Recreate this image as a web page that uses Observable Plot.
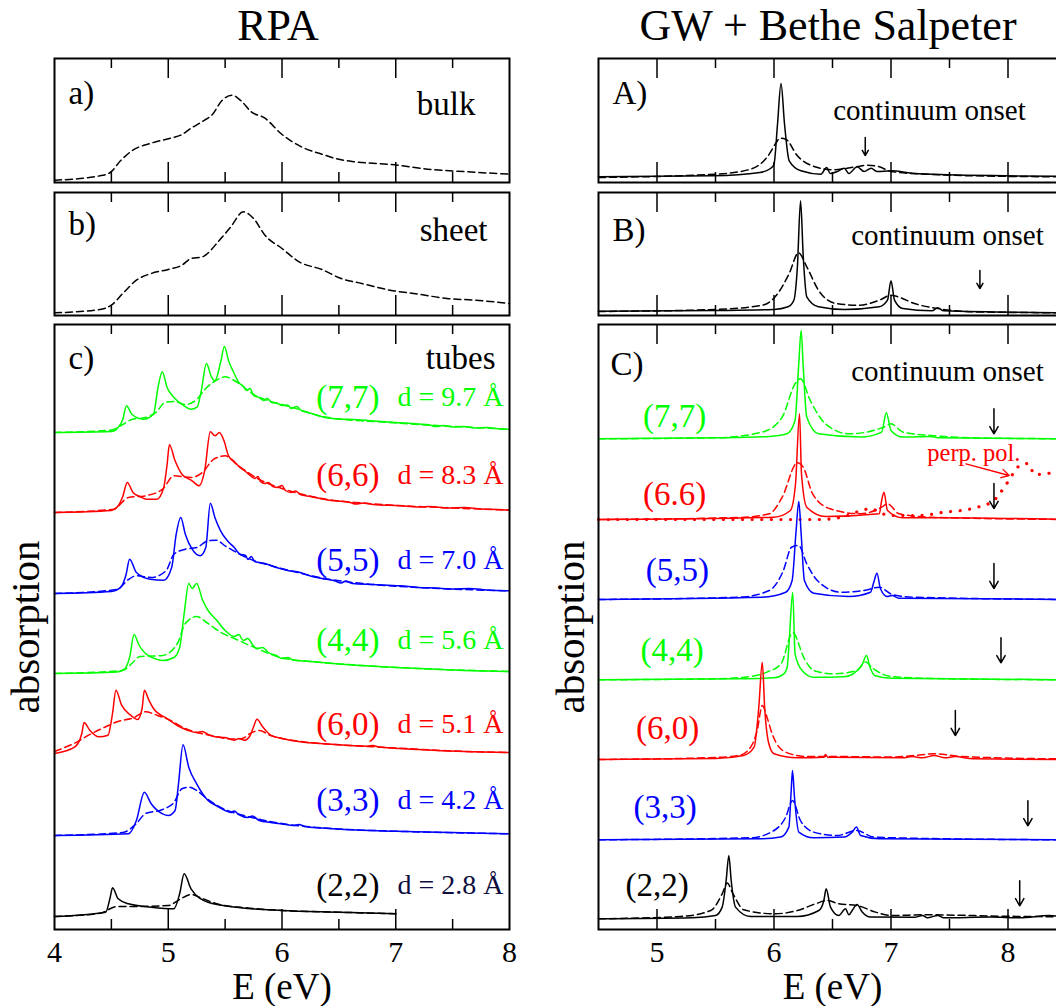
<!DOCTYPE html>
<html><head><meta charset="utf-8">
<script src="https://cdn.jsdelivr.net/npm/d3@7"></script>
<script src="https://cdn.jsdelivr.net/npm/@observablehq/plot@0.6"></script>
<style>
html,body{margin:0;padding:0;background:#fff;overflow:hidden;}
#root{position:relative;width:1056px;height:1006px;overflow:hidden;font-family:"Liberation Serif","Times New Roman",serif;}
.title{position:absolute;top:1px;width:600px;text-align:center;font-size:44px;line-height:50px;white-space:nowrap;color:#000;}
</style></head><body><div id="root"></div>
<script>
// ---------------- DATA ----------------
const SERIF = "Liberation Serif, Times New Roman, serif";
const ticksRPAmajor = [5, 6, 7];
const ticksRPAminor = [4.5, 5.5, 6.5, 7.5];
const ticksRPAlabels = [4, 5, 6, 7, 8];
const ticksBSEmajor = [5, 6, 7, 8];
const ticksBSEminor = [5.5, 6.5, 7.5];
const ticksBSElabels = [5, 6, 7, 8];

// RPA a) bulk, b) sheet (dashed)
const rpaBulk = [[4.0,0.23],[4.4,0.67],[4.49,1.0],[4.58,2.17],[4.68,3.17],[4.84,3.9],[5.02,4.43],[5.11,4.73],[5.2,5.43],[5.31,6.17],[5.39,6.83],[5.47,8.17],[5.56,8.73],[5.64,8.17],[5.73,7.07],[5.85,6.43],[5.99,4.9],[6.17,3.57],[6.35,2.83],[6.52,2.27],[6.64,2.07],[6.99,1.77],[7.28,1.33],[7.63,1.07],[8.0,0.83]];
const rpaSheet = [[4.0,0.27],[4.4,0.6],[4.5,1.03],[4.6,2.2],[4.72,3.53],[4.85,4.2],[5.0,4.6],[5.12,5.03],[5.2,5.7],[5.3,5.87],[5.45,7.53],[5.55,8.87],[5.66,10.37],[5.75,9.7],[5.85,8.03],[6.0,6.7],[6.15,5.37],[6.35,4.6],[6.52,3.7],[6.7,3.2],[6.95,2.53],[7.2,2.13],[7.45,1.7],[7.7,1.53],[8.0,1.2]];

// RPA c) tubes: solid / dashed
const rpa77s = [[4.0,0],[4.5,0.1],[4.56,0.5],[4.6,1.3],[4.633,2.67],[4.68,1.83],[4.78,1.33],[4.87,1.83],[4.91,4.5],[4.947,6.07],[4.99,4.5],[5.05,3.5],[5.14,2.67],[5.2,2.33],[5.255,2.57],[5.29,4.17],[5.336,6.9],[5.376,5.67],[5.41,5.17],[5.46,7.0],[5.494,8.6],[5.53,7.17],[5.576,6.0],[5.62,5.0],[5.66,4.6],[5.69,4.2],[5.72,4.4],[5.75,3.7],[5.8,3.5],[5.84,3.2],[5.87,3.4],[5.91,3.0],[5.96,2.9],[6.0,2.7],[6.05,2.75],[6.08,2.4],[6.13,2.6],[6.17,2.2],[6.23,2.0],[6.3,1.75],[6.38,1.5],[6.5,1.35],[6.64,1.3],[6.8,1.15],[7.0,1.0],[7.2,0.85],[7.3,0.75],[7.35,0.6],[7.42,0.7],[7.5,0.55],[7.6,0.6],[7.7,0.45],[7.8,0.5],[7.9,0.38],[8.0,0.33]];
const rpa77d = [[4.0,0],[4.5,0.25],[4.6,0.8],[4.68,1.3],[4.8,1.5],[4.9,2.1],[4.97,3.0],[5.05,3.1],[5.15,2.8],[5.25,3.3],[5.33,4.4],[5.42,5.2],[5.5,5.57],[5.58,5.2],[5.66,4.6],[5.75,3.8],[5.85,3.3],[6.0,2.8],[6.15,2.3],[6.3,1.75],[6.5,1.35],[6.8,1.1],[7.2,0.8],[7.6,0.55],[8.0,0.33]];
const rpa66s = [[4.0,0],[4.5,0.2],[4.56,0.67],[4.6,1.6],[4.64,3.0],[4.69,2.0],[4.75,1.6],[4.81,1.33],[4.9,1.33],[4.96,2.5],[4.99,4.8],[5.01,6.77],[5.06,5.17],[5.12,3.83],[5.21,3.17],[5.27,2.67],[5.32,4.17],[5.37,8.07],[5.41,7.67],[5.45,8.0],[5.49,7.17],[5.53,5.67],[5.58,5.1],[5.63,4.5],[5.68,4.1],[5.72,3.7],[5.76,3.4],[5.79,3.6],[5.81,3.1],[5.85,2.9],[5.88,3.0],[5.92,2.6],[5.96,2.5],[6.0,2.7],[6.03,2.2],[6.08,2.0],[6.12,2.15],[6.16,1.8],[6.25,1.6],[6.35,1.35],[6.46,1.17],[6.6,1.0],[6.65,0.85],[6.72,0.95],[6.8,0.8],[7.04,0.67],[7.2,0.55],[7.3,0.6],[7.45,0.45],[7.6,0.5],[7.75,0.35],[7.9,0.3],[8.0,0.23]];
const rpa66d = [[4.0,0],[4.52,0.33],[4.65,1.5],[4.8,1.67],[4.95,2.33],[5.05,3.67],[5.2,3.5],[5.3,4.0],[5.4,5.33],[5.5,5.67],[5.6,4.83],[5.7,4.0],[5.8,3.3],[5.95,2.6],[6.15,1.9],[6.4,1.3],[6.7,0.95],[7.1,0.65],[7.5,0.45],[8.0,0.23]];
const rpa55s = [[4.0,0],[4.5,0.2],[4.58,0.6],[4.63,1.93],[4.66,3.43],[4.72,2.1],[4.84,1.43],[4.96,1.33],[5.03,2.6],[5.07,5.93],[5.11,7.6],[5.15,5.93],[5.21,4.43],[5.28,3.77],[5.33,4.6],[5.37,9.03],[5.41,7.6],[5.46,6.27],[5.52,5.27],[5.58,4.6],[5.63,3.93],[5.68,3.8],[5.7,3.4],[5.73,3.7],[5.76,3.2],[5.8,3.1],[5.87,2.93],[5.95,2.6],[6.05,2.3],[6.16,2.1],[6.25,1.75],[6.35,1.5],[6.46,1.27],[6.52,1.05],[6.56,1.25],[6.62,1.0],[6.8,0.9],[7.04,0.77],[7.2,0.6],[7.35,0.55],[7.5,0.45],[7.65,0.5],[7.8,0.35],[8.0,0.27]];
const rpa55d = [[4.0,0],[4.55,0.4],[4.65,1.4],[4.72,1.77],[4.85,1.6],[4.98,2.27],[5.05,3.93],[5.15,4.43],[5.25,4.6],[5.35,5.27],[5.42,5.33],[5.5,4.77],[5.6,4.1],[5.75,3.3],[5.9,2.8],[6.1,2.2],[6.4,1.45],[6.8,0.9],[7.2,0.6],[7.6,0.4],[8.0,0.27]];
const rpa44s = [[4.0,0],[4.55,0.15],[4.62,0.5],[4.66,1.6],[4.7,3.9],[4.74,2.9],[4.8,2.0],[4.88,1.5],[4.95,1.3],[5.05,1.6],[5.1,2.6],[5.14,6.0],[5.18,9.0],[5.21,8.5],[5.25,9.0],[5.3,7.4],[5.35,6.3],[5.42,5.4],[5.5,4.3],[5.58,3.7],[5.62,3.9],[5.66,3.3],[5.7,3.5],[5.74,2.9],[5.78,2.5],[5.83,2.6],[5.88,2.1],[5.95,1.8],[6.0,1.5],[6.05,1.6],[6.1,1.35],[6.2,1.25],[6.3,1.15],[6.4,1.05],[6.5,0.95],[6.7,0.8],[7.0,0.6],[7.3,0.45],[7.6,0.3],[8.0,0.2]];
const rpa44d = [[4.0,0],[4.6,0.3],[4.68,1.0],[4.75,1.7],[4.95,1.8],[5.08,3.0],[5.15,5.0],[5.25,5.7],[5.35,5.0],[5.45,4.2],[5.6,3.4],[5.8,2.4],[6.0,1.55],[6.3,1.15],[6.7,0.8],[7.2,0.5],[8.0,0.2]];
const rpa60s = [[4.0,0],[4.18,0.67],[4.24,2.0],[4.26,3.1],[4.31,2.33],[4.39,1.67],[4.47,1.83],[4.51,4.0],[4.54,6.33],[4.59,4.83],[4.67,3.83],[4.73,3.4],[4.77,4.5],[4.79,6.33],[4.83,5.33],[4.87,4.5],[4.99,3.5],[5.08,2.8],[5.17,2.33],[5.25,2.1],[5.3,2.2],[5.35,1.9],[5.41,1.67],[5.5,1.6],[5.58,1.33],[5.62,1.5],[5.67,1.33],[5.72,1.8],[5.75,2.67],[5.78,3.43],[5.83,2.67],[5.9,1.83],[6.0,1.5],[6.16,1.17],[6.4,0.95],[6.75,0.73],[6.8,0.8],[6.85,0.65],[7.2,0.4],[7.6,0.2],[8.0,0.1]];
const rpa60d = [[4.0,0.2],[4.2,1.17],[4.3,1.83],[4.45,2.67],[4.55,3.17],[4.7,3.6],[4.8,4.17],[4.9,3.83],[5.0,3.4],[5.17,2.4],[5.4,1.75],[5.55,1.45],[5.65,1.5],[5.72,2.0],[5.8,2.3],[5.9,1.8],[6.0,1.5],[6.2,1.15],[6.6,0.8],[7.0,0.55],[7.5,0.25],[8.0,0.1]];
const rpa33s = [[4.0,0],[4.65,0.17],[4.72,1.5],[4.79,4.33],[4.85,3.17],[4.95,2.17],[5.0,2.0],[5.06,2.5],[5.09,5.17],[5.13,9.07],[5.18,6.83],[5.25,5.17],[5.35,3.5],[5.42,3.0],[5.5,2.5],[5.55,2.3],[5.58,2.45],[5.62,2.1],[5.7,1.8],[5.74,1.95],[5.8,1.5],[5.9,1.3],[6.0,1.15],[6.1,1.0],[6.15,1.1],[6.2,0.9],[6.35,0.75],[6.55,0.6],[7.0,0.43],[7.5,0.3],[8.0,0.17]];
const rpa33d = [[4.0,0],[4.6,0.3],[4.72,1.2],[4.8,2.2],[4.95,2.6],[5.05,3.3],[5.12,4.67],[5.18,4.83],[5.25,4.5],[5.35,3.6],[5.5,2.6],[5.7,1.9],[6.0,1.2],[6.5,0.65],[7.0,0.43],[8.0,0.17]];
const rpa22s = [[4.0,0],[4.45,0.43],[4.49,1.93],[4.51,2.87],[4.56,1.77],[4.65,1.27],[4.85,0.93],[5.05,0.77],[5.1,2.27],[5.14,4.27],[5.2,2.77],[5.35,1.43],[5.6,0.93],[6.0,0.6],[6.5,0.43],[7.0,0.27]];
const rpa22d = [[4.0,0],[4.4,0.33],[4.55,1.0],[4.7,1.0],[5.0,1.1],[5.1,1.7],[5.2,2.2],[5.3,1.8],[5.45,1.2],[5.7,0.85],[6.0,0.6],[6.5,0.43],[7.0,0.27]];

const rpaNames = ["(7,7)", "(6,6)", "(5,5)", "(4,4)", "(6,0)", "(3,3)", "(2,2)"];
const rpaDiam = ["d = 9.7 Å", "d = 8.3 Å", "d = 7.0 Å", "d = 5.6 Å", "d = 5.1 Å", "d = 4.2 Å", "d = 2.8 Å"];
const rpaOffsets = [49.7, 41.7, 33.6, 25.6, 17.6, 9.4, 1.3];
const rpaSolid = [rpa77s, rpa66s, rpa55s, rpa44s, rpa60s, rpa33s, rpa22s];
const rpaDashed = [rpa77d, rpa66d, rpa55d, rpa44d, rpa60d, rpa33d, rpa22d];

// GW + BSE: A) bulk, B) sheet
const bseAs = [[4.5,0.57],[5.48,0.67],[5.88,1.0],[5.97,1.4],[6.0,1.83],[6.03,5.83],[6.06,9.9],[6.09,5.83],[6.13,2.17],[6.23,1.17],[6.4,0.83],[6.45,1.5],[6.48,0.9],[6.54,1.1],[6.6,1.43],[6.64,0.9],[6.71,1.57],[6.77,1.1],[6.83,1.43],[6.88,1.1],[7.0,1.17],[7.2,0.9],[7.49,0.77],[8.0,0.67],[8.5,0.6]];
const bseAd = [[4.5,0.5],[5.5,0.83],[5.8,1.33],[5.95,2.67],[6.02,4.0],[6.05,4.43],[6.1,4.33],[6.2,2.67],[6.35,1.57],[6.5,1.27],[6.7,1.57],[6.8,1.73],[6.9,1.57],[7.0,1.1],[7.3,0.83],[7.7,0.67],[8.5,0.57]];
const bseBs = [[4.5,0.43],[5.5,0.5],[6.0,0.6],[6.12,0.87],[6.17,1.53],[6.2,4.87],[6.227,11.47],[6.25,5.87],[6.28,1.87],[6.38,0.87],[6.6,0.6],[6.9,0.87],[6.97,1.53],[7.0,3.47],[7.03,1.53],[7.1,0.7],[7.35,0.47],[7.4,0.77],[7.45,0.47],[8.5,0.27]];
const bseBd = [[4.5,0.4],[5.5,0.6],[5.9,1.03],[6.01,1.87],[6.13,4.2],[6.21,6.27],[6.28,4.87],[6.38,2.53],[6.53,1.2],[6.72,1.03],[6.9,1.53],[7.0,2.03],[7.06,1.87],[7.2,1.2],[7.4,0.7],[7.7,0.37],[8.5,0.27]];
const onsetA = 6.78, onsetB = 7.76;

// GW + BSE: C) tubes
const bse77s = [[4.5,0],[5.5,0.1],[5.96,0.23],[6.11,0.5],[6.18,1.83],[6.21,7.17],[6.232,10.83],[6.25,7.17],[6.28,2.17],[6.38,0.5],[6.74,0.17],[6.92,0.67],[6.96,2.6],[7.0,0.83],[7.1,0.17],[7.34,0.23],[7.4,0.1],[8.5,0]];
const bse77d = [[4.5,0],[5.5,0.1],[5.9,0.67],[6.07,2.17],[6.18,5.5],[6.226,6.0],[6.31,3.83],[6.44,1.5],[6.64,0.5],[6.94,1.17],[7.0,1.5],[7.1,0.67],[7.34,0.33],[7.7,0.1],[8.5,0]];
const bse66s = [[4.5,0],[6.0,0.23],[6.14,0.9],[6.184,3.57],[6.218,10.57],[6.235,4.57],[6.28,1.23],[6.44,0.3],[6.9,0.57],[6.92,1.9],[6.94,2.73],[6.97,0.9],[7.1,0.17],[7.4,0.17],[8.5,0]];
const bse66d = [[4.5,0],[5.7,0.2],[5.96,0.57],[6.07,2.23],[6.2,5.67],[6.25,5.23],[6.33,2.57],[6.48,1.07],[6.74,0.57],[6.92,1.23],[6.97,1.57],[7.07,0.57],[7.34,0.23],[8.5,0]];
const bse66perp = [[4.5,0],[6.4,0],[6.6,0.3],[6.75,0.9],[6.83,1.1],[6.9,0.7],[7.0,0.4],[7.25,0.4],[7.45,0.73],[7.66,1.0],[7.76,1.3],[7.88,1.9],[7.93,2.6],[7.99,3.6],[8.05,4.7],[8.1,5.4],[8.17,5.6],[8.23,4.5],[8.34,4.6],[8.41,4.8],[8.5,5.0]];
const bse55s = [[4.5,0],[5.9,0.23],[6.1,0.73],[6.155,1.9],[6.187,6.57],[6.212,9.8],[6.232,6.57],[6.26,1.9],[6.34,0.63],[6.64,0.3],[6.825,0.73],[6.853,1.73],[6.88,2.63],[6.91,1.07],[6.967,0.3],[7.01,0.4],[7.067,0.13],[8.5,0]];
const bse55d = [[4.5,0],[5.7,0.23],[5.96,0.9],[6.08,2.9],[6.15,5.23],[6.21,5.4],[6.28,3.57],[6.37,1.9],[6.57,0.73],[6.77,0.9],[6.9,1.23],[7.01,0.5],[7.2,0.23],[8.5,0]];
const bse44s = [[4.5,0],[5.7,0.1],[6.0,0.2],[6.084,0.6],[6.113,1.27],[6.13,3.9],[6.16,8.76],[6.18,2.6],[6.24,0.93],[6.34,0.25],[6.6,0.3],[6.75,1.43],[6.79,2.43],[6.82,1.27],[6.86,0.43],[7.0,0.15],[8.5,0]];
const bse44d = [[4.5,0],[5.5,0.1],[5.8,0.33],[5.94,0.77],[6.06,1.6],[6.16,4.7],[6.26,2.1],[6.34,0.93],[6.51,0.6],[6.71,0.93],[6.78,1.77],[6.85,1.1],[7.0,0.33],[7.5,0.1],[8.5,0]];
const bse60s = [[4.5,0],[5.5,0.1],[5.74,0.4],[5.83,1.23],[5.87,5.23],[5.9,9.73],[5.92,5.23],[5.956,1.57],[6.0,0.57],[6.2,0.17],[6.426,0.23],[6.44,0.5],[6.46,0.23],[7.1,0.17],[7.18,0.3],[7.27,0.17],[7.37,0.4],[7.46,0.17],[7.55,0.3],[7.7,0.07],[8.5,0]];
const bse60d = [[4.5,0],[5.5,0.2],[5.7,0.4],[5.8,1.23],[5.856,2.9],[5.9,5.4],[5.94,4.23],[5.984,2.57],[6.1,0.73],[6.28,0.3],[6.45,0.3],[7.0,0.25],[7.2,0.4],[7.37,0.57],[7.6,0.3],[8.5,0.05]];
const bse33s = [[4.5,0],[5.9,0.1],[6.056,0.27],[6.127,1.27],[6.147,4.93],[6.158,6.93],[6.175,4.27],[6.212,0.77],[6.34,0.2],[6.6,0.27],[6.668,0.77],[6.705,1.27],[6.74,0.43],[6.9,0.1],[8.5,0]];
const bse33d = [[4.5,0],[5.8,0.2],[6.0,0.93],[6.1,2.27],[6.158,3.93],[6.226,1.93],[6.34,0.77],[6.54,0.43],[6.705,0.93],[6.853,0.27],[7.5,0.1],[8.5,0]];
const bse22s = [[4.5,0],[5.3,0.1],[5.5,0.33],[5.557,1.17],[5.591,3.83],[5.614,6.33],[5.634,3.83],[5.671,1.17],[5.8,0.23],[6.2,0.23],[6.383,0.83],[6.426,1.83],[6.446,3.0],[6.483,1.17],[6.554,0.33],[6.611,1.0],[6.64,0.4],[6.668,0.83],[6.71,1.43],[6.754,0.67],[6.825,0.17],[7.2,0.15],[7.27,0.33],[7.31,0.1],[7.4,0.33],[7.45,0.1],[7.85,0.17],[8.1,0.1],[8.35,0.33],[8.5,0.15]];
const bse22d = [[4.5,0],[5.2,0.23],[5.46,0.83],[5.557,2.5],[5.6,3.57],[5.65,2.5],[5.742,0.9],[6.0,0.5],[6.2,0.83],[6.355,1.5],[6.454,1.83],[6.554,1.5],[6.71,1.33],[6.868,0.67],[7.0,0.33],[7.3,0.4],[8.0,0.25],[8.5,0.2]];

const bseNames = ["(7,7)", "(6.6)", "(5,5)", "(4,4)", "(6,0)", "(3,3)", "(2,2)"];
const bseOffsets = [49.07, 41.0, 33.0, 24.97, 17.0, 8.97, 1.07];
const bseSolid = [bse77s, bse66s, bse55s, bse44s, bse60s, bse33s, bse22s];
const bseDashed = [bse77d, bse66d, bse55d, bse44d, bse60d, bse33d, bse22d];
const bseOnsets = [7.88, 7.88, 7.88, 7.94, 7.55, 8.17, 8.10];

const tubeColors = ["#00ff00", "#ff0000", "#0000ff", "#00ff00", "#ff0000", "#0000ff", "#000000"];

// ---------------- LAYOUT (styles / placement) ----------------
const rpaLabelDy = [3.5, 3.7, 3.3, 3.3, 2.9, 3.5, 3.1];
const bseLabelX = [5.15, 5.15, 5.175, 5.13, 5.09, 5.07, 5.0];
const bseLabelDy = [2.2, 2.5, 2.9, 2.9, 3.1, 3.2, 3.3];
const bseArrowTip = [0.5, 1.1, 1.1, 1.7, 2.4, 1.4, 1.3];
const DASH = "7,4";
const LW = 1.5;

const root = document.getElementById("root");

function pts(arr, off = 0) { return arr.map(([x, y]) => ({x, y: y + off})); }
function curve(arr, off, stroke, dashed) {
  return Plot.line(pts(arr, off), {x: "x", y: "y", curve: "monotone-x", stroke, strokeWidth: LW,
    strokeDasharray: dashed ? DASH : null});
}
function txt(s, o) {
  return Plot.text([s], {text: d => d, fontFamily: SERIF, fill: "black", lineAnchor: "middle", textAnchor: "middle", ...o});
}

function panel(o) {
  const inner = o.height - o.mt - o.mb;
  const tk = {stroke: "black", strokeWidth: 1.5};
  const svg = Plot.plot({
    width: o.width, height: o.height,
    marginTop: o.mt, marginBottom: o.mb, marginLeft: o.ml, marginRight: o.mr,
    x: {domain: o.xDomain, axis: null},
    y: {domain: [0, o.yMax], axis: null},
    style: {fontFamily: SERIF, background: "transparent", overflow: "visible", color: "black"},
    marks: [
      ...o.marks,
      Plot.ruleX(o.major, {x: d => d, insetTop: inner - 20, ...tk}),
      Plot.ruleX(o.major, {x: d => d, insetBottom: inner - 20, ...tk}),
      Plot.ruleX(o.minor, {x: d => d, insetTop: inner - 10, ...tk}),
      Plot.ruleX(o.minor, {x: d => d, insetBottom: inner - 10, ...tk}),
      Plot.frame({stroke: "black", strokeWidth: 2})
    ]
  });
  svg.style.position = "absolute";
  svg.style.left = o.left + "px";
  svg.style.top = o.top + "px";
  root.appendChild(svg);
}

// Titles
function title(s, cx) {
  const d = document.createElement("div");
  d.className = "title";
  d.textContent = s;
  d.style.left = (cx - 300) + "px";
  root.appendChild(d);
}
title("RPA", 278);
title("GW + Bethe Salpeter", 828);

const L = {left: 0, width: 530, ml: 54, mr: 21, xDomain: [4, 8], major: ticksRPAmajor, minor: ticksRPAminor};
const R = {left: 544, width: 530, ml: 54, mr: 8, xDomain: [4.5, 8.5], major: ticksBSEmajor, minor: ticksBSEminor};
const FS = 33;

// a) bulk
panel({...L, top: 56, height: 128, mt: 2, mb: 2, yMax: 12.4, marks: [
  curve(rpaBulk, 0, "black", true),
  txt("a)", {frameAnchor: "top-left", dx: 14, dy: 35, textAnchor: "start", fontSize: FS}),
  txt("bulk", {frameAnchor: "top-right", dx: -34, dy: 46, textAnchor: "end", fontSize: FS})
]});
// b) sheet
panel({...L, top: 190, height: 127, mt: 2, mb: 2, yMax: 12.3, marks: [
  curve(rpaSheet, 0, "black", true),
  txt("b)", {frameAnchor: "top-left", dx: 14, dy: 32, textAnchor: "start", fontSize: FS}),
  txt("sheet", {frameAnchor: "top-right", dx: -22, dy: 38, textAnchor: "end", fontSize: FS})
]});
// c) tubes
{
  const marks = [];
  rpaOffsets.forEach((off, i) => {
    marks.push(curve(rpaDashed[i], off, tubeColors[i], true));
    marks.push(curve(rpaSolid[i], off, tubeColors[i], false));
    marks.push(Plot.text([rpaNames[i]], {text: d => d, y: () => off + rpaLabelDy[i], frameAnchor: "right", dx: -130,
      textAnchor: "end", lineAnchor: "middle", fontSize: 33, fontFamily: SERIF, fill: tubeColors[i]}));
    marks.push(Plot.text([rpaDiam[i]], {text: d => d, y: () => off + rpaLabelDy[i], frameAnchor: "right", dx: -6,
      textAnchor: "end", lineAnchor: "middle", fontSize: 28, fontFamily: SERIF, fill: i === 6 ? "#0d0d40" : tubeColors[i]}));
  });
  marks.push(txt("c)", {frameAnchor: "top-left", dx: 14, dy: 34, textAnchor: "start", fontSize: FS}));
  marks.push(txt("tubes", {frameAnchor: "top-right", dx: -14, dy: 34, textAnchor: "end", fontSize: FS}));
  marks.push(Plot.text(ticksRPAlabels, {x: d => d, text: d => String(d), frameAnchor: "bottom", dy: 23, lineAnchor: "middle", fontSize: 30, fontFamily: SERIF, fill: "black"}));
  marks.push(txt("E (eV)", {frameAnchor: "bottom", dy: 58, fontSize: 37}));
  marks.push(txt("absorption", {frameAnchor: "left", dx: -29, rotate: -90, fontSize: 41}));
  panel({...L, top: 322, height: 684, mt: 2, mb: 77, yMax: 60.5, marks});
}

// A) bulk BSE
panel({...R, top: 56, height: 128, mt: 2, mb: 2, yMax: 12.4, marks: [
  curve(bseAd, 0, "black", true),
  curve(bseAs, 0, "black", false),
  Plot.arrow([onsetA], {x1: d => d, x2: d => d, y1: 4.5, y2: 2.7, stroke: "black", strokeWidth: LW, headLength: 9}),
  txt("A)", {frameAnchor: "top-left", dx: 14, dy: 35, textAnchor: "start", fontSize: FS}),
  txt("continuum onset", {frameAnchor: "top-left", dx: 331, dy: 52, fontSize: 29})
]});
// B) sheet BSE
panel({...R, top: 190, height: 127, mt: 2, mb: 2, yMax: 12.3, marks: [
  curve(bseBd, 0, "black", true),
  curve(bseBs, 0, "black", false),
  Plot.arrow([onsetB], {x1: d => d, x2: d => d, y1: 4.5, y2: 2.7, stroke: "black", strokeWidth: LW, headLength: 9}),
  txt("B)", {frameAnchor: "top-left", dx: 14, dy: 38, textAnchor: "start", fontSize: FS}),
  txt("continuum onset", {frameAnchor: "top-left", dx: 349, dy: 43, fontSize: 29})
]});
// C) tubes BSE
{
  const marks = [];
  bseOffsets.forEach((off, i) => {
    if (i === 1) {
      marks.push(Plot.line(pts(bse66perp, off), {x: "x", y: "y", curve: "monotone-x", stroke: "#ff0000",
        strokeWidth: 3.2, strokeDasharray: "0.1,9.5", strokeLinecap: "round"}));
    }
    marks.push(curve(bseDashed[i], off, tubeColors[i], true));
    marks.push(curve(bseSolid[i], off, tubeColors[i], false));
    marks.push(Plot.text([bseNames[i]], {text: d => d, x: () => bseLabelX[i], y: () => off + bseLabelDy[i],
      textAnchor: "middle", lineAnchor: "middle", fontSize: 33, fontFamily: SERIF, fill: tubeColors[i]}));
    marks.push(Plot.arrow([bseOnsets[i]], {x1: d => d, x2: d => d, y1: off + bseArrowTip[i] + 2.5, y2: off + bseArrowTip[i],
      stroke: "black", strokeWidth: LW, headLength: 9}));
  });
  marks.push(Plot.text(["perp. pol."], {text: d => d, x: 7.31, y: 47.6, textAnchor: "start", lineAnchor: "middle", fontSize: 24.5, fontFamily: SERIF, fill: "#ff0000"}));
  marks.push(Plot.arrow([0], {x1: 7.64, y1: 46.57, x2: 8.01, y2: 45.4, stroke: "#ff0000", strokeWidth: 1.3, headLength: 10}));
  marks.push(txt("C)", {frameAnchor: "top-left", dx: 12, dy: 40, textAnchor: "start", fontSize: FS}));
  marks.push(txt("continuum onset", {frameAnchor: "top-left", dx: 349, dy: 47, fontSize: 29}));
  marks.push(Plot.text(ticksBSElabels, {x: d => d, text: d => String(d), frameAnchor: "bottom", dy: 23, lineAnchor: "middle", fontSize: 30, fontFamily: SERIF, fill: "black"}));
  marks.push(txt("E (eV)", {frameAnchor: "bottom", dy: 58, fontSize: 37}));
  marks.push(txt("absorption", {frameAnchor: "left", dx: -28, rotate: -90, fontSize: 41}));
  panel({...R, top: 322, height: 684, mt: 2, mb: 77, yMax: 60.5, marks});
}
</script></body></html>
